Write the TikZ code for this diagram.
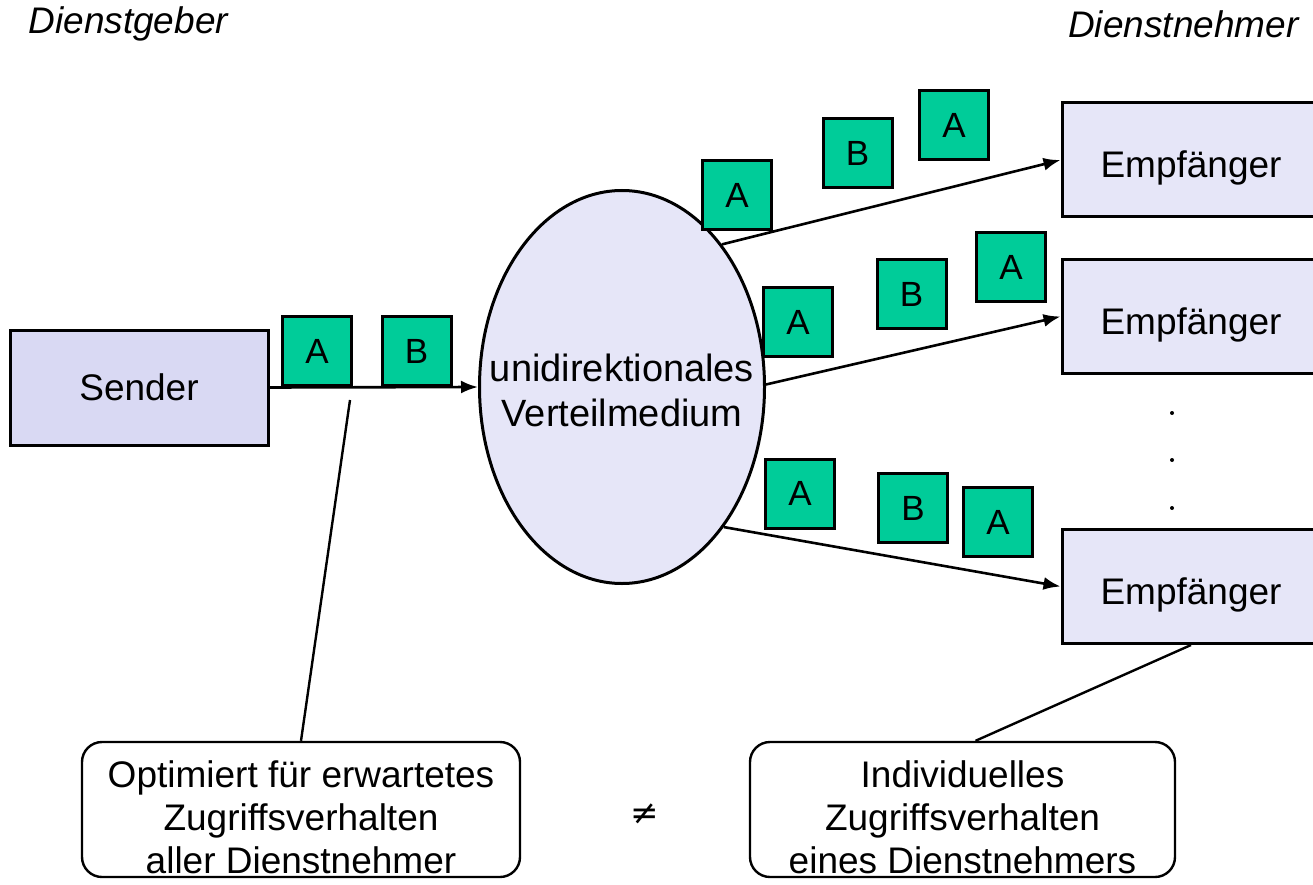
\documentclass[tikz,border=0pt]{standalone}
\usepackage{fontspec}
\setmainfont{Liberation Sans}
\newfontfamily\symfont{DejaVu Sans}
\usetikzlibrary{shapes.geometric,arrows.meta,calc}
\definecolor{lav}{HTML}{D9D9F3}
\definecolor{lavlight}{HTML}{E6E6F8}
\definecolor{pkt}{HTML}{00CC99}
\begin{document}
\begin{tikzpicture}[x=1pt,y=-1pt,
  every node/.style={font=\fontsize{37}{44}\selectfont},
  box/.style={draw,line width=3pt,inner sep=0pt},
  rbox/.style={box,fill=lavlight,minimum width=258pt,minimum height=114pt,text width=258pt,align=center,text height=44pt,text depth=8pt},
  packet/.style={draw,line width=3pt,fill=pkt,minimum width=69pt,minimum height=69pt,inner sep=0pt,font=\fontsize{35}{40}\selectfont},
  conn/.style={line width=2.6pt,-{Latex[length=17pt,width=13pt]}},
  note/.style={draw,line width=2.4pt,rounded corners=20pt,inner sep=0pt},
  notetext/.style={align=center,inner sep=0pt,font=\fontsize{37}{43}\selectfont},
  head/.style={font=\fontsize{37}{44}\selectfont\itshape}]
\useasboundingbox (0,0) rectangle (1313,885);
\fill[white] (0,0) rectangle (1313,885);

\node[head,anchor=west] (geber) at (25,24) {Dienstgeber};
\node[head,anchor=east] (nehmer) at (1302,24) {Dienstnehmer};

\node[box,fill=lav,minimum width=258pt,minimum height=115pt] (sender) at (139,387.5) {Sender};
\node[draw,line width=3pt,ellipse,fill=lavlight,minimum width=285pt,minimum height=393pt,inner sep=0pt] (ell) at (622,387) {};
\node[align=center,inner sep=0pt,font=\fontsize{38}{45}\selectfont] (elltext) at (622,390) {unidirektionales\\Verteilmedium};

\node[rbox] (r1) at (1191,160) {Empfänger};
\node[rbox] (r2) at (1191,316.5) {Empfänger};
\node[rbox] (r3) at (1191,586.5) {Empfänger};

\fill (1172,413) circle (2pt) (1172,460) circle (2pt) (1172,508) circle (2pt);

\draw[conn] (sender.east) -- (ell.west);
\draw[conn] (ell.55) -- (r1.west);
\draw[conn] (ell.1) -- (r2.west);
\draw[conn] (ell.-54) -- (r3.west);

\node[packet] (sa) at (317,351) {A};
\node[packet] (sb) at (416.5,351) {B};
\node[packet] (a1) at (737,195) {A};
\node[packet] (b1) at (857.5,153.5) {B};
\node[packet] (c1) at (954,125) {A};
\node[packet] (a2) at (798,322) {A};
\node[packet] (b2) at (911.5,294) {B};
\node[packet] (c2) at (1011,267) {A};
\node[packet] (a3) at (800,493.5) {A};
\node[packet] (b3) at (913,508) {B};
\node[packet] (c3) at (998,522) {A};

\node[note,minimum width=438pt,minimum height=135pt] (n1) at (301,809.5) {};
\node[notetext] (t1) at (301,817) {Optimiert für erwartetes\\Zugriffsverhalten\\aller Dienstnehmer};
\node[note,minimum width=425pt,minimum height=135pt] (n2) at (962.5,809.5) {};
\node[notetext] (t2) at (962.5,817) {Individuelles\\Zugriffsverhalten\\eines Dienstnehmers};
\node[font=\fontsize{34}{40}\symfont] (neq) at (645,814) {≠};

\coordinate (tap) at (350,400);
\draw[line width=2.4pt] (tap) -- (n1.north);
\draw[line width=2.4pt] (r3.south) -- ([xshift=13pt]n2.north);
\end{tikzpicture}
\end{document}
